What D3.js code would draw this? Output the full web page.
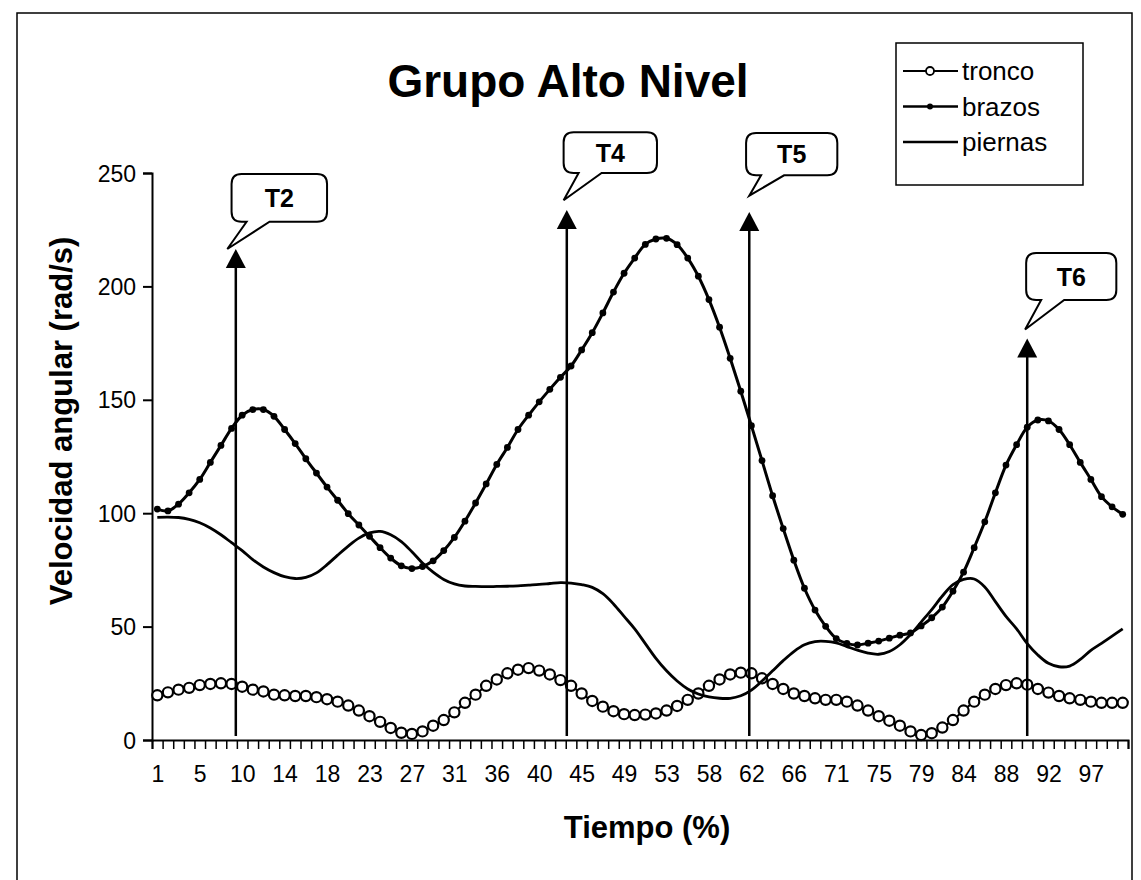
<!DOCTYPE html>
<html>
<head>
<meta charset="utf-8">
<script src="https://cdn.jsdelivr.net/npm/d3@7"></script>
<style>
  body { margin: 0; background: #fff; }
  text { font-family: "Liberation Sans", Arial, sans-serif; fill: #000; }
</style>
</head>
<body>
<svg id="chart" width="1141" height="880"></svg>
<script>
// velocity values, one per category (92 samples across 1..100 %)
const tronco = [19.7, 21, 22.2, 23, 24.2, 24.7, 25, 24.7, 23.5, 22.2, 21.4, 20, 19.7, 19.4, 19.4, 18.9,
  18, 16.9, 15.2, 13, 10.5, 8, 5.3, 3.2, 2.7, 3.8, 6.3, 8.8, 12.2, 16.4, 20, 23.9, 26.7, 29.4, 31, 31.7,
  30.6, 28.9, 26.4, 23.9, 20.5, 17.2, 14.7, 12.7, 11.4, 11, 11.2, 11.7, 13, 15, 17.7, 20.5, 23.9, 26.7,
  28.9, 29.7, 29.4, 27.2, 24.7, 22.5, 20.5, 19.4, 18.4, 17.7, 17.7, 16.9, 15.2, 13, 10.5, 8.5, 6.3, 3.8,
  2.2, 3, 5.5, 8.8, 13, 16.9, 20, 22.5, 24.2, 25, 24.4, 22.5, 20.9, 19.4, 18.4, 17.7, 16.9, 16.4, 16.4, 16.4];

const brazos = [101.8, 101, 104, 109, 114.9, 122.4, 129.9, 137.4, 143.2, 145.7, 145.7, 142.7, 136.9, 130.7,
  124, 117.7, 111.5, 105.7, 99.8, 94.8, 89.8, 84.8, 80.2, 76.8, 75.6, 76.5, 79, 83.5, 89.3, 96.5, 104.5,
  112.9, 121.5, 129, 136.9, 143.2, 149.1, 154.6, 159.9, 164.9, 172, 179.6, 188.3, 197.5, 205.8, 212.5,
  218.5, 220.9, 221.2, 218.4, 212.5, 204.5, 194.2, 182, 168.3, 153.8, 138.6, 123.2, 107.7, 93.2, 79.3,
  66.9, 57.3, 50.1, 44.7, 42.6, 41.9, 42.7, 43.6, 44.9, 46.2, 47.2, 50.3, 53.9, 58.6, 65.6, 74, 84.8, 96.2,
  109, 121.2, 130.2, 137.9, 141.1, 140.7, 136.9, 130.2, 122.4, 114.9, 107.3, 102.8, 99.5];

const piernas = [98.2, 98.3, 98.1, 97.3, 95.8, 93.5, 90.5, 87, 83.5, 79.5, 76.3, 73.8, 72, 71.2, 71.7, 73.7,
  77.3, 81.5, 85.5, 89, 91.3, 92, 90.5, 87.5, 83, 78, 74, 70.8, 68.8, 67.9, 67.7, 67.6, 67.7, 67.8, 68,
  68.3, 68.6, 69, 69.4, 69.2, 68.5, 67.3, 64.5, 60, 54.5, 49, 42.5, 36, 30.5, 26, 22.5, 20.3, 19, 18.4,
  18.4, 19.5, 22, 26, 30.5, 35, 39, 42, 43.4, 43.5, 42.8, 41.2, 39.6, 38.3, 37.8, 39, 42, 46.5, 52, 57.5,
  63.5, 68.5, 70.8, 71, 67.5, 61, 54.5, 49, 42.5, 37.5, 33.8, 32.3, 32.6, 35.5, 39.5, 42.6, 45.8, 49];

const seriesNames = ["tronco", "brazos", "piernas"];
const xTickLabels = ["1", "5", "10", "14", "18", "23", "27", "31", "36", "40", "45", "49", "53", "58",
  "62", "66", "71", "75", "79", "84", "88", "92", "97"];
const labelStep = 4;
const yTicks = [0, 50, 100, 150, 200, 250];

// callouts: category position of arrow, value of arrow tip, box corners and pointer tip
const callLabels = ["T2", "T4", "T5", "T6"];
const callArrowX = [7.4, 38.6, 55.8, 82.0];
const callArrowTop = [216.5, 233.7, 232.8, 177];
const callBoxX = [[7.0, 16.0], [38.3, 47.1], [55.5, 64.1], [81.9, 90.4]];
const callBoxY = [[249.6, 228.5], [268, 250], [267.6, 249], [214.7, 194]];
const callTip = [[6.6, 216.5], [38.3, 238], [55.8, 240], [81.8, 181]];

const svg = d3.select("#chart");
const n = tronco.length;

const plot = { left: 152, right: 1128, top: 173, bottom: 740 };

const x = d3.scaleLinear().domain([-0.5, n - 0.5]).range([plot.left, plot.right]);
const y = d3.scaleLinear().domain([0, 250]).range([plot.bottom, plot.top]);

// outer frame
svg.append("rect")
  .attr("x", 17).attr("y", 13).attr("width", 1115).attr("height", 900)
  .attr("fill", "none").attr("stroke", "#000").attr("stroke-width", 1.5);

// title
svg.append("text")
  .attr("x", 568).attr("y", 97)
  .attr("text-anchor", "middle")
  .style("font-size", "46px").style("font-weight", "bold")
  .text("Grupo Alto Nivel");

// y axis
const yAxis = svg.append("g")
  .attr("transform", `translate(${plot.left},0)`)
  .call(d3.axisLeft(y).tickValues(yTicks).tickSize(9).tickPadding(7));
yAxis.select(".domain").attr("stroke-width", 2);
yAxis.selectAll(".tick line").attr("stroke-width", 2);
yAxis.selectAll("text").style("font-size", "23px").attr("dy", "0.35em");

// x axis: minor ticks between every category
const xAxis = svg.append("g")
  .attr("transform", `translate(0,${plot.bottom})`)
  .call(d3.axisBottom(x).tickValues(d3.range(-0.5, n, 1)).tickSize(9).tickFormat(""));
xAxis.select(".domain").attr("stroke-width", 2);
xAxis.selectAll(".tick line").attr("stroke-width", 1.5);

const xLab = svg.append("g")
  .attr("transform", `translate(0,${plot.bottom})`)
  .call(d3.axisBottom(x)
    .tickValues(xTickLabels.map((d, i) => i * labelStep))
    .tickSize(0).tickPadding(26)
    .tickFormat((d, i) => xTickLabels[i]));
xLab.select(".domain").remove();
xLab.selectAll("text").style("font-size", "23px");

// axis titles
svg.append("text")
  .attr("x", 647).attr("y", 838)
  .attr("text-anchor", "middle")
  .style("font-size", "31px").style("font-weight", "bold")
  .text("Tiempo (%)");

svg.append("text")
  .attr("transform", "translate(72,421) rotate(-90)")
  .attr("text-anchor", "middle")
  .style("font-size", "31px").style("font-weight", "bold")
  .text("Velocidad angular (rad/s)");

const line = d3.line()
  .x((d, i) => x(i))
  .y(d => y(d))
  .curve(d3.curveCatmullRom.alpha(0.5));

// tronco
svg.append("path").datum(tronco)
  .attr("d", line).attr("fill", "none").attr("stroke", "#000").attr("stroke-width", 2);
svg.append("g").selectAll("circle").data(tronco).join("circle")
  .attr("cx", (d, i) => x(i)).attr("cy", d => y(d)).attr("r", 5.1)
  .attr("fill", "#fff").attr("stroke", "#000").attr("stroke-width", 2.2);

// brazos
svg.append("path").datum(brazos)
  .attr("d", line).attr("fill", "none").attr("stroke", "#000").attr("stroke-width", 3);
svg.append("g").selectAll("circle").data(brazos).join("circle")
  .attr("cx", (d, i) => x(i)).attr("cy", d => y(d)).attr("r", 3.4)
  .attr("fill", "#000");

// piernas
svg.append("path").datum(piernas)
  .attr("d", line).attr("fill", "none").attr("stroke", "#000").attr("stroke-width", 2.8);

// arrows
const arrows = svg.append("g");
callLabels.forEach((lab, i) => {
  const ax = x(callArrowX[i]);
  const top = y(callArrowTop[i]);
  arrows.append("line")
    .attr("x1", ax).attr("x2", ax)
    .attr("y1", plot.bottom - 4).attr("y2", top + 16)
    .attr("stroke", "#000").attr("stroke-width", 2.5);
  arrows.append("path")
    .attr("d", `M${ax},${top} L${ax - 10},${top + 19} L${ax + 10},${top + 19} Z`)
    .attr("fill", "#000");
});

// callout boxes
function calloutPath(x0, y0, x1, y1, tx, ty) {
  const r = 10;
  const b1 = x0 + 15, b2 = x0 + 38;
  return `M${x0 + r},${y0} L${x1 - r},${y0} Q${x1},${y0} ${x1},${y0 + r}` +
    ` L${x1},${y1 - r} Q${x1},${y1} ${x1 - r},${y1} L${b2},${y1} L${tx},${ty} L${b1},${y1}` +
    ` L${x0 + r},${y1} Q${x0},${y1} ${x0},${y1 - r} L${x0},${y0 + r} Q${x0},${y0} ${x0 + r},${y0} Z`;
}

const calls = svg.append("g");
callLabels.forEach((lab, i) => {
  const x0 = x(callBoxX[i][0]), x1 = x(callBoxX[i][1]);
  const y0 = y(callBoxY[i][0]), y1 = y(callBoxY[i][1]);
  calls.append("path")
    .attr("d", calloutPath(x0, y0, x1, y1, x(callTip[i][0]), y(callTip[i][1])))
    .attr("fill", "#fff").attr("stroke", "#000").attr("stroke-width", 2);
  calls.append("text")
    .attr("x", (x0 + x1) / 2).attr("y", (y0 + y1) / 2)
    .attr("dy", "0.36em").attr("text-anchor", "middle")
    .style("font-size", "25px").style("font-weight", "bold")
    .text(lab);
});

// legend
const leg = svg.append("g").attr("transform", "translate(896,43)");
leg.append("rect")
  .attr("width", 187).attr("height", 142)
  .attr("fill", "#fff").attr("stroke", "#000").attr("stroke-width", 1.5);
seriesNames.forEach((name, i) => {
  const ly = 28 + i * 35.5;
  const row = leg.append("g").attr("transform", `translate(0,${ly})`);
  row.append("line").attr("x1", 7).attr("x2", 62).attr("y1", 0).attr("y2", 0)
    .attr("stroke", "#000").attr("stroke-width", i === 0 ? 2 : 2.5);
  if (i === 0) {
    row.append("circle").attr("cx", 34).attr("cy", 0).attr("r", 4)
      .attr("fill", "#fff").attr("stroke", "#000").attr("stroke-width", 1.8);
  } else if (i === 1) {
    row.append("circle").attr("cx", 34).attr("cy", 0).attr("r", 3).attr("fill", "#000");
  }
  row.append("text").attr("x", 66).attr("y", 0).attr("dy", "0.35em")
    .style("font-size", "26px").text(name);
});
</script>
</body>
</html>
